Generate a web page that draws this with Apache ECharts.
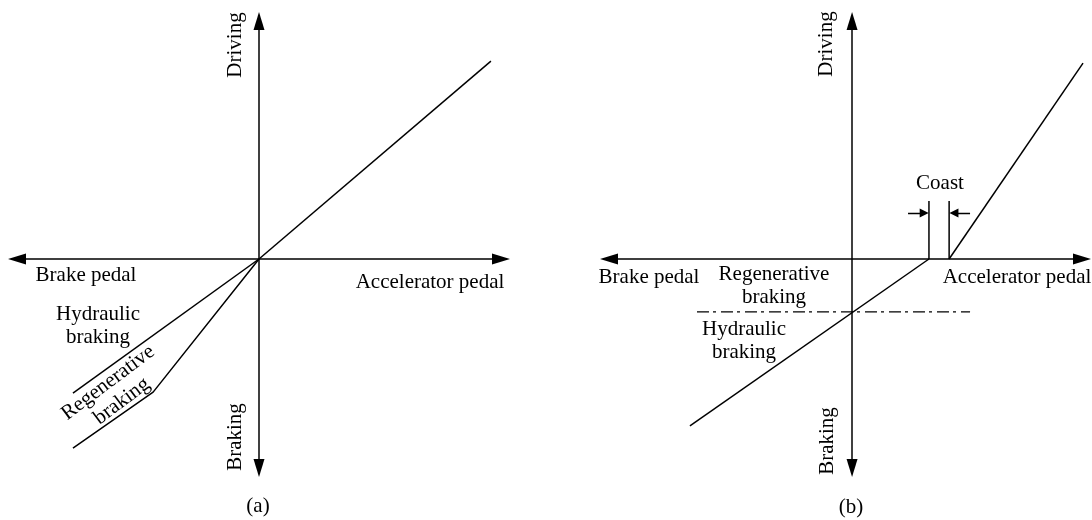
<!DOCTYPE html>
<html>
<head>
<meta charset="utf-8">
<script src="https://cdn.jsdelivr.net/npm/echarts@6/dist/echarts.min.js"></script>
<style>
  html, body { margin: 0; padding: 0; background: #fff; }
  #chart { width: 1092px; height: 520px; }
</style>
</head>
<body>
<div id="chart"></div>
<script>
// axis ranges (pedal travel / force, arbitrary units)
const xRangeA = [-96, 96];
const xRangeB = [-96.4, 91.2];
const yRange = [-82.9, 94.4];

// panel (a)
const driveA = [[0, 0], [92, 78.5]];
const hydraulicA = [[0, 0], [-73.8, -53.2]];
const regenA = [[0, 0], [-42, -52.8], [-73.8, -75]];

// panel (b)
const driveB = [[38.5, 0], [91.6, 77.7]];
const brakeB = [[30.5, 0], [-64.3, -66.2]];
const coastLeft = [[30.5, 0], [30.5, 23]];
const coastRight = [[38.5, 0], [38.5, 23]];
const coastArrows = [
    [[22.2, 18.2], [28.6, 18.2]],
    [[46.8, 18.2], [40.4, 18.2]]
];
const splitLine = [[-61.5, -21], [46.8, -21]];

const FONT = "Liberation Serif";
const black = "#000";

const chart = echarts.init(document.getElementById("chart"));

function axis(range, gridIndex) {
    return {
        type: "value",
        gridIndex: gridIndex,
        min: range[0],
        max: range[1],
        axisLine: {
            show: true,
            onZero: true,
            symbol: ["triangle", "triangle"],
            symbolSize: [11, 18],
            lineStyle: { color: black, width: 1.5 }
        },
        axisTick: { show: false },
        axisLabel: { show: false },
        splitLine: { show: false }
    };
}

function seg(data, idx, extra) {
    return Object.assign({
        type: "line",
        xAxisIndex: idx,
        yAxisIndex: idx,
        data: data,
        symbol: "none",
        silent: true,
        lineStyle: { color: black, width: 1.5 }
    }, extra || {});
}

function txt(text, x, y, rot) {
    return {
        type: "text",
        x: x,
        y: y,
        rotation: (rot || 0) * Math.PI / 180,
        silent: true,
        style: {
            text: text,
            fill: black,
            font: "21px " + FONT,
            align: "center",
            verticalAlign: "middle",
            lineHeight: 23
        }
    };
}

chart.setOption({
    animation: false,
    backgroundColor: "#fff",
    grid: [
        { left: 17, right: 591, top: 21, bottom: 52 },
        { left: 609, right: 10, top: 21, bottom: 52 }
    ],
    xAxis: [axis(xRangeA, 0), axis(xRangeB, 1)],
    yAxis: [axis(yRange, 0), axis(yRange, 1)],
    series: [
        seg(driveA, 0),
        seg(hydraulicA, 0),
        seg(regenA, 0),
        seg(driveB, 1),
        seg(brakeB, 1),
        seg(coastLeft, 1),
        seg(coastRight, 1),
        seg(splitLine, 1, {
            lineStyle: { color: black, width: 1.3, type: [12, 4, 3, 5] }
        }),
        {
            type: "lines",
            coordinateSystem: "cartesian2d",
            xAxisIndex: 1,
            yAxisIndex: 1,
            silent: true,
            symbol: ["none", "triangle"],
            symbolSize: 9,
            lineStyle: { color: black, width: 1.3, opacity: 1 },
            data: coastArrows.map(c => ({ coords: c }))
        }
    ],
    graphic: [
        // panel (a)
        txt("Brake pedal", 86, 275),
        txt("Accelerator pedal", 430, 282),
        txt("Hydraulic\nbraking", 98, 326),
        txt("Regenerative\nbraking", 115, 392, 37),
        txt("Driving", 235, 45, 90),
        txt("Braking", 235, 437, 90),
        txt("(a)", 258, 506),
        // panel (b)
        txt("Brake pedal", 649, 277),
        txt("Regenerative\nbraking", 774, 286),
        txt("Hydraulic\nbraking", 744, 341),
        txt("Accelerator pedal", 1017, 277),
        txt("Coast", 940, 183),
        txt("Driving", 826, 44, 90),
        txt("Braking", 827, 441, 90),
        txt("(b)", 851, 507)
    ]
});
</script>
</body>
</html>
